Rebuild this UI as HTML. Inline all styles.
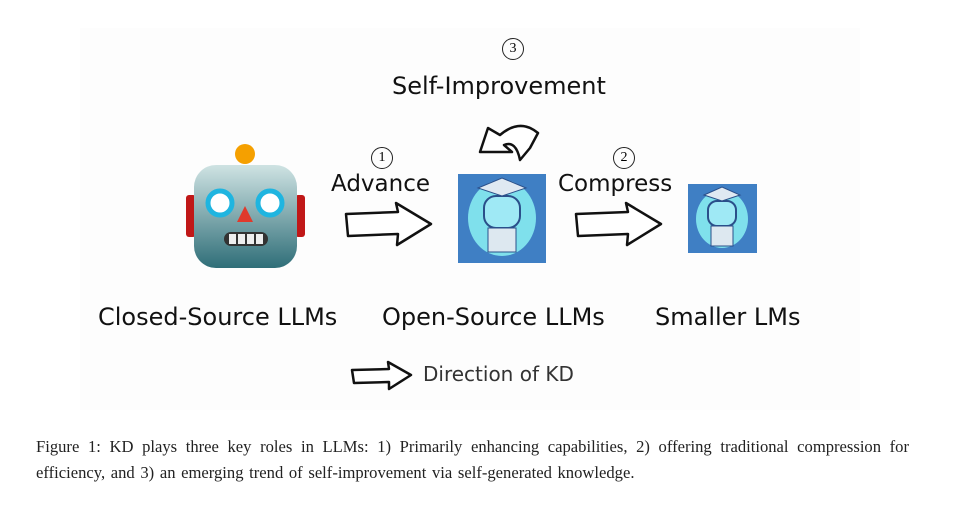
<!DOCTYPE html>
<html><head><meta charset="utf-8"><style>
body{margin:0;width:963px;height:508px;background:#fff;position:relative;overflow:hidden;font-family:"DejaVu Sans","Liberation Sans",sans-serif;}
.bg{position:absolute;left:80px;top:28px;width:780px;height:382px;background:#fdfdfd;}
.t{position:absolute;color:#111;white-space:nowrap;}
.c{position:absolute;width:20px;height:20px;border:1px solid #222;border-radius:50%;font:14px "Liberation Serif",serif;text-align:center;line-height:20px;}
.cap{position:absolute;left:36px;top:434px;width:873px;font:16.6px/26px "Liberation Serif",serif;word-spacing:1.5px;color:#222;text-align:justify;}
</style></head><body>
<div class="bg"></div>
<div class="c" style="left:502px;top:38px">3</div>
<div class="t" style="left:392px;top:72px;font-size:24px">Self-Improvement</div>
<div class="c" style="left:371px;top:147px">1</div>
<div class="t" style="left:331px;top:171px;font-size:23px">Advance</div>
<div class="c" style="left:613px;top:147px">2</div>
<div class="t" style="left:558px;top:171px;font-size:23px">Compress</div>
<div class="t" style="left:98px;top:303px;font-size:24px">Closed-Source LLMs</div>
<div class="t" style="left:382px;top:303px;font-size:24px">Open-Source LLMs</div>
<div class="t" style="left:655px;top:303px;font-size:24px">Smaller LMs</div>
<div class="t" style="left:423px;top:362px;font-size:20px;color:#333">Direction of KD</div>
<svg width="963" height="508" style="position:absolute;left:0;top:0">
<circle cx="245" cy="154" r="10" fill="#f5a000"/>
<path d="M231 170 Q245 160 259 170 L257 176 L233 176Z" fill="#6b4b8a"/>
<rect x="186" y="195" width="10" height="42" rx="3" fill="#c01818"/>
<rect x="295" y="195" width="10" height="42" rx="3" fill="#c01818"/>
<defs><linearGradient id="g" x1="0" y1="0" x2="0" y2="1"><stop offset="0" stop-color="#cfe3e3"/><stop offset="1" stop-color="#2f6e78"/></linearGradient></defs>
<rect x="194" y="165" width="103" height="103" rx="22" fill="url(#g)"/>
<circle cx="220" cy="203" r="12" fill="#fff" stroke="#1fb5e0" stroke-width="5"/>
<circle cx="270" cy="203" r="12" fill="#fff" stroke="#1fb5e0" stroke-width="5"/>
<path d="M245 206 L253 222 L237 222Z" fill="#e03a2c"/>
<rect x="224" y="232" width="44" height="14" rx="7" fill="#333"/>
<g fill="#eee"><rect x="229" y="234" width="7" height="10"/><rect x="238" y="234" width="7" height="10"/><rect x="247" y="234" width="7" height="10"/><rect x="256" y="234" width="7" height="10"/></g>
<rect x="458" y="174" width="88" height="89" fill="#3f7fc4"/>
<ellipse cx="502" cy="218" rx="34" ry="38" fill="#7fe0ec"/>
<rect x="484" y="196" width="36" height="32" rx="12" fill="#9fe9f5" stroke="#2a4f8a" stroke-width="2"/>
<path d="M478 188 L502 178 L526 188 L502 196Z" fill="#dfe9f2" stroke="#2a4f8a"/>
<rect x="488" y="228" width="28" height="24" fill="#dde8f0" stroke="#2a4f8a"/>
<rect x="688" y="184" width="69" height="69" fill="#3f7fc4"/>
<ellipse cx="722" cy="219" rx="26" ry="29" fill="#7fe0ec"/>
<rect x="708" y="201" width="28" height="25" rx="9" fill="#9fe9f5" stroke="#2a4f8a" stroke-width="2"/>
<path d="M704 195 L722 187 L740 195 L722 201Z" fill="#dfe9f2" stroke="#2a4f8a"/>
<rect x="711" y="226" width="22" height="20" fill="#dde8f0" stroke="#2a4f8a"/>
<g fill="#fff" stroke="#111" stroke-width="2.5" stroke-linejoin="round">
<path d="M346 214 L398 212 L396 203 L431 224 L397 245 L398 234 L348 236 Z"/>
<path d="M576 214 L628 212 L626 203 L661 224 L627 245 L628 234 L578 236 Z"/>
<path d="M352 370 L389 369 L388 362 L411 375 L389 389 L389 382 L354 383 Z"/>
<path d="M480 152 L488 128 L500 135 Q520 118 538 133 L530 148 L520 160 Q516 140 504 145 L512 152 Z"/>
</g>
</svg>
<div class="cap">Figure 1: KD plays three key roles in LLMs: 1) Primarily enhancing capabilities, 2) offering traditional compression for efficiency, and 3) an emerging trend of self-improvement via self-generated knowledge.</div>
</body></html>
